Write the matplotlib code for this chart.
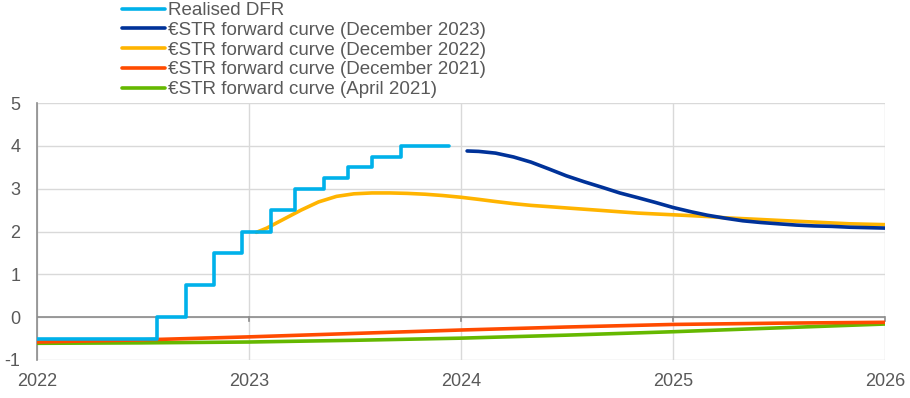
# Realised DFR and €STR forward curves

import matplotlib
matplotlib.use("Agg")
import matplotlib.pyplot as plt
import matplotlib.dates as mdates
import pandas as pd

plt.rcParams['font.family'] = ['Liberation Sans', 'DejaVu Sans']
plt.rcParams['axes.unicode_minus'] = False


def month_starts(first, last):
    """Month start dates from first to last (both 'YYYY-MM')."""
    return [d.strftime('%Y-%m-%d') for d in pd.date_range(first, last, freq='MS')]


# Realised deposit facility rate (step changes)
dfr_dates = ['2022-01-01', '2022-07-27', '2022-09-14', '2022-11-02',
             '2022-12-21', '2023-02-08', '2023-03-22', '2023-05-10',
             '2023-06-21', '2023-08-02', '2023-09-20', '2023-12-12']
dfr_values = [-0.5, 0.0, 0.75, 1.5, 2.0, 2.5, 3.0, 3.25, 3.5, 3.75, 4.0, 4.0]

# €STR forward curve (December 2023), monthly
dec23_dates = ['2024-01-12'] + month_starts('2024-02', '2026-01')
dec23_values = [3.88, 3.87, 3.83, 3.74, 3.62, 3.46, 3.30, 3.16, 3.03, 2.90,
                2.79, 2.68, 2.56, 2.46, 2.38, 2.31, 2.25, 2.21, 2.18, 2.15,
                2.13, 2.12, 2.10, 2.09, 2.08]

# €STR forward curve (December 2022), monthly
dec22_dates = ['2023-01-14'] + month_starts('2023-02', '2026-01')
dec22_values = [1.98, 2.08, 2.28, 2.50, 2.69, 2.82, 2.88, 2.90, 2.90, 2.89,
                2.87, 2.84, 2.80, 2.75, 2.70, 2.65, 2.61, 2.58, 2.55, 2.52,
                2.49, 2.46, 2.43, 2.41, 2.39, 2.37, 2.35, 2.32, 2.30, 2.28,
                2.26, 2.24, 2.22, 2.20, 2.18, 2.17, 2.16]

# €STR forward curve (December 2021), half-yearly
dec21_dates = ['2022-01-01', '2022-07-01', '2023-01-01', '2023-07-01',
               '2024-01-01', '2024-07-01', '2025-01-01', '2025-07-01',
               '2026-01-01']
dec21_values = [-0.58, -0.53, -0.46, -0.38, -0.30, -0.23, -0.17, -0.14, -0.12]

# €STR forward curve (April 2021), half-yearly
apr21_dates = dec21_dates
apr21_values = [-0.61, -0.60, -0.58, -0.54, -0.49, -0.42, -0.34, -0.25, -0.16]

labels = ['Realised DFR',
          '€STR forward curve (December 2023)',
          '€STR forward curve (December 2022)',
          '€STR forward curve (December 2021)',
          '€STR forward curve (April 2021)']
colors = ['#00B1EA', '#003299', '#FFB400', '#FF4B00', '#65B800']

all_dates = [dfr_dates, dec23_dates, dec22_dates, dec21_dates, apr21_dates]
all_values = [dfr_values, dec23_values, dec22_values, dec21_values, apr21_values]

text_color = '#595959'
grid_color = '#D9D9D9'
axis_color = '#8C8C8C'

fig = plt.figure(figsize=(9.10, 3.98), dpi=100)
ax = fig.add_axes([37 / 910, 1 - 360 / 398, 848 / 910, 257 / 398])

handles = [None] * 5
# draw back to front: April 2021 first, realised DFR last
for i in [4, 3, 2, 1, 0]:
    line, = ax.plot(pd.to_datetime(all_dates[i]), all_values[i],
                    color=colors[i], linewidth=2.6, label=labels[i],
                    drawstyle='steps-post' if i == 0 else 'default',
                    solid_capstyle='round', solid_joinstyle='round', zorder=3)
    handles[i] = line

ax.set_xlim(pd.Timestamp('2022-01-01'), pd.Timestamp('2026-01-01'))
ax.set_ylim(-1, 5)
ax.set_yticks(range(-1, 6))

ax.xaxis.set_major_locator(mdates.YearLocator())
ax.xaxis.set_major_formatter(mdates.DateFormatter('%Y'))

ax.grid(True, color=grid_color, linewidth=1)
ax.set_axisbelow(True)

for side in ['top', 'right', 'bottom']:
    ax.spines[side].set_visible(False)
ax.spines['left'].set_color(axis_color)
ax.spines['left'].set_linewidth(1.2)

# zero line acting as x axis, with year ticks below it
ax.axhline(0, color=axis_color, linewidth=1.2, zorder=2)
for year in range(2023, 2027):
    ax.plot([pd.Timestamp(f'{year}-01-01')] * 2, [0, -0.1],
            color=axis_color, linewidth=1.2, zorder=2, clip_on=False)

ax.tick_params(axis='both', length=0, labelsize=13, colors=text_color)
ax.tick_params(axis='y', pad=12)
ax.tick_params(axis='x', pad=9)

fig.legend(handles, labels,
           loc='upper left', bbox_to_anchor=(122 / 910, 1 - 2 / 398),
           frameon=False, fontsize=13.5, labelcolor=text_color,
           handlelength=2.3, handletextpad=0.15, labelspacing=0.14,
           borderpad=0, borderaxespad=0)

fig.savefig('out.png', dpi=100)
